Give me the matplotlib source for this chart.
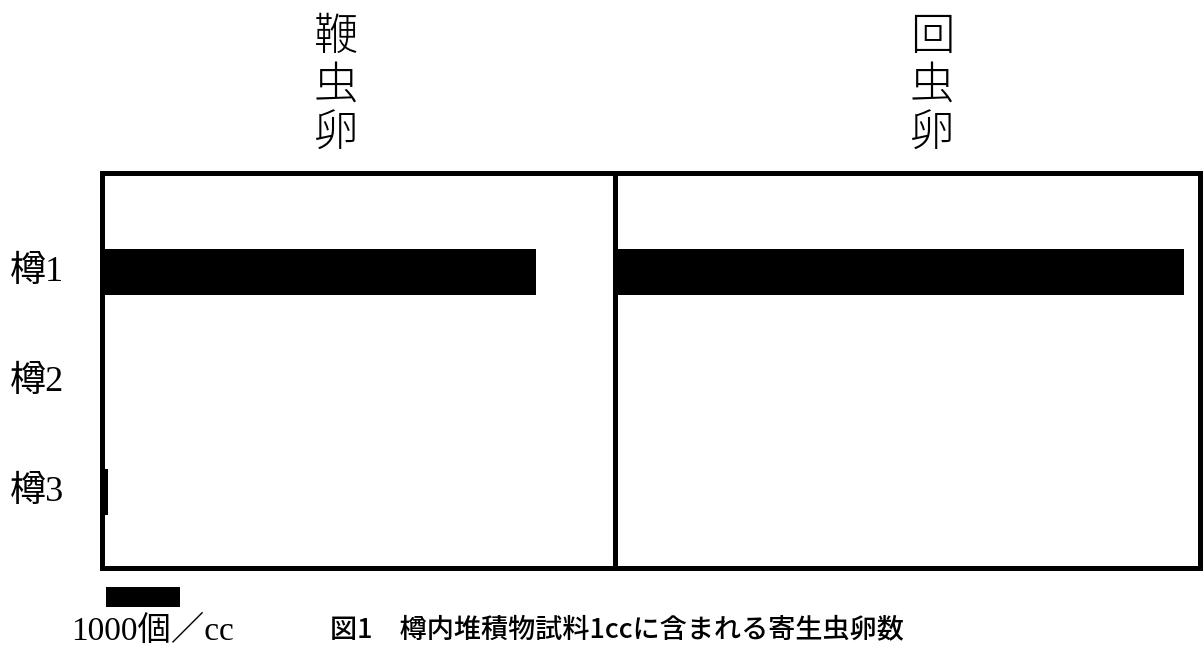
import matplotlib
matplotlib.use("Agg")
import matplotlib.pyplot as plt

categories = ["樽1", "樽2", "樽3"]
whipworm = [5870, 25, 90]      # 鞭虫卵 (個/cc)
roundworm = [7690, 0, 0]       # 回虫卵 (個/cc)
panel_titles = ["鞭\n虫\n卵", "回\n虫\n卵"]
scale_value = 1000
scale_label = "1000個／cc"
caption = "図1　樽内堆積物試料1ccに含まれる寄生虫卵数"

CJK = "Noto Sans CJK JP"
MIX = ["Liberation Serif", CJK]

W, H = 1204, 648
fig = plt.figure(figsize=(W / 100, H / 100), dpi=100)

px_per_unit = 74 / 1000.0
left_px, mid_px, right_px = 101.5, 615, 1200
top_px, bot_px = 173, 568

def fx(p):
    return p / W

def fy(p):
    return 1 - p / H

axL = fig.add_axes([fx(left_px), fy(bot_px), fx(mid_px - left_px), (bot_px - top_px) / H])
axR = fig.add_axes([fx(mid_px), fy(bot_px), fx(right_px - mid_px), (bot_px - top_px) / H])

ypos = list(range(len(categories)))
for ax, vals, x0, x1 in [(axL, whipworm, left_px, mid_px), (axR, roundworm, mid_px, right_px)]:
    ax.barh(ypos, vals, height=0.42, color="black")
    ax.set_xlim(0, (x1 - x0) / px_per_unit)
    ax.set_ylim(2 + (bot_px - 492) / 110, -(272 - top_px) / 110)
    ax.set_xticks([])
    ax.set_yticks([])
    for s in ax.spines.values():
        s.set_linewidth(3.6)
        s.set_color("black")

# category labels
for i, c in enumerate(categories):
    axL.text(-(left_px - 37) / px_per_unit, i, c, ha="center", va="center",
             fontsize=26, family=MIX, clip_on=False)

# scale bar
axL.barh([2 + (597 - 492) / 110], [scale_value], left=(106 - left_px) / px_per_unit,
         height=20 / 110, color="black", clip_on=False)
fig.text(fx(153), fy(631), scale_label, ha="center", va="center", fontsize=24, family=MIX)

# panel titles
fig.text(fx(336), fy(86), panel_titles[0], ha="center", va="center", fontsize=32,
         family=CJK, linespacing=1.1, fontweight="light")
fig.text(fx(932), fy(86), panel_titles[1], ha="center", va="center", fontsize=32,
         family=CJK, linespacing=1.1, fontweight="light")

# caption
fig.text(fx(330), fy(630), caption, ha="left", va="center", fontsize=19.5,
         family=CJK, fontweight="medium")

fig.savefig("out.png", dpi=100)
